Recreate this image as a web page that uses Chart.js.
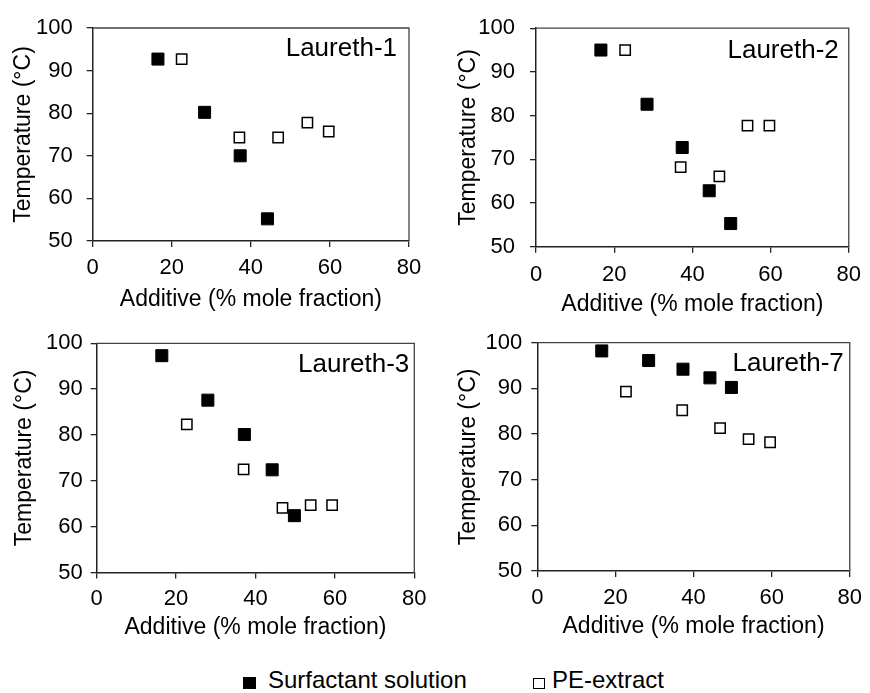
<!DOCTYPE html>
<html><head><meta charset="utf-8">
<script src="https://cdn.jsdelivr.net/npm/chart.js@4.4.1/dist/chart.umd.min.js"></script>
<style>
body{margin:0;background:#fff;width:870px;height:693px;position:relative;overflow:hidden;font-family:"Liberation Sans",Arial,sans-serif;}
canvas{position:absolute;}
.lg{position:absolute;font-size:24px;line-height:24px;color:#000;white-space:nowrap}
.sq{position:absolute;box-sizing:border-box}
</style></head><body>
<canvas id="c1" width="435" height="320" style="left:0;top:0"></canvas>
<canvas id="c2" width="435" height="320" style="left:435px;top:0"></canvas>
<canvas id="c3" width="435" height="340" style="left:0;top:320px"></canvas>
<canvas id="c4" width="435" height="340" style="left:435px;top:320px"></canvas>
<div class="sq" style="left:243px;top:677px;width:13px;height:12px;background:#000"></div>
<div class="lg" id="lg1" style="left:268px;top:668px"></div>
<div class="sq" style="left:533px;top:678px;width:12px;height:11px;border:1.3px solid #000"></div>
<div class="lg" id="lg2" style="left:552px;top:668px"></div>
<script>
// ---- data ----
const seriesNames = ["Surfactant solution", "PE-extract"];
const panelLabels = ["Laureth-1", "Laureth-2", "Laureth-3", "Laureth-7"];
const xTitle = "Additive (% mole fraction)";
const yTitle = "Temperature (°C)";
const xTicks = [0, 20, 40, 60, 80];
const yTicks = [50, 60, 70, 80, 90, 100];

const l1SurfX = [16.5, 28.3, 37.3, 44.2];
const l1SurfY = [92.7, 80.2, 70.0, 55.2];
const l1PeX   = [22.5, 37.1, 46.9, 54.3, 59.7];
const l1PeY   = [92.7, 74.3, 74.3, 77.8, 75.7];

const l2SurfX = [16.6, 28.4, 37.4, 44.3, 49.8];
const l2SurfY = [95.0, 82.6, 72.7, 62.8, 55.3];
const l2PeX   = [22.8, 37.0, 46.9, 54.1, 59.7];
const l2PeY   = [95.0, 68.2, 66.1, 77.7, 77.7];

const l3SurfX = [16.4, 28.0, 37.2, 44.2, 49.8];
const l3SurfY = [97.3, 87.6, 80.1, 72.4, 62.4];
const l3PeX   = [22.7, 37.0, 46.8, 53.9, 59.3];
const l3PeY   = [82.3, 72.5, 64.1, 64.7, 64.7];

const l7SurfX = [16.5, 28.5, 37.3, 44.2, 49.7];
const l7SurfY = [98.2, 96.1, 94.2, 92.3, 90.2];
const l7PeX   = [22.7, 37.1, 46.8, 54.1, 59.6];
const l7PeY   = [89.3, 85.2, 81.3, 78.9, 78.2];

document.getElementById('lg1').textContent = seriesNames[0];
document.getElementById('lg2').textContent = seriesNames[1];

const FONT = '"Liberation Sans", Arial, sans-serif';

const framePlugin = {
  id: 'frame',
  beforeDatasetsDraw(chart) {
    const {ctx, chartArea: a} = chart;
    ctx.save();
    ctx.strokeStyle = '#444';
    ctx.lineWidth = 1.3;
    ctx.beginPath();
    ctx.moveTo(a.left, a.top); ctx.lineTo(a.right, a.top); ctx.lineTo(a.right, a.bottom);
    ctx.stroke();
    ctx.restore();
  }
};
const labelPlugin = {
  id: 'panelLabel',
  afterDatasetsDraw(chart, args, opts) {
    const {ctx, chartArea: a} = chart;
    ctx.save();
    ctx.font = '26px ' + FONT;
    ctx.fillStyle = '#000';
    ctx.textAlign = 'right';
    ctx.textBaseline = 'middle';
    ctx.fillText(opts.text, a.right - opts.dx, a.top + opts.dy);
    ctx.restore();
  }
};

function pts(xs, ys) { return xs.map((x, i) => ({x: x, y: ys[i]})); }

function makeChart(id, label, sx, sy, px, py, g) {
  return new Chart(document.getElementById(id), {
    type: 'scatter',
    data: { datasets: [
      {label: seriesNames[0], data: pts(sx, sy), pointStyle: 'rect', pointRadius: 8.5,
       backgroundColor: '#000', borderColor: '#000', borderWidth: 1},
      {label: seriesNames[1], data: pts(px, py), pointStyle: 'rect', pointRadius: 7.3,
       backgroundColor: '#fff', borderColor: '#000', borderWidth: 1.5}
    ]},
    options: {
      responsive: false, animation: false, devicePixelRatio: 1,
      layout: {padding: {left: 0, top: g.top, right: g.right, bottom: 0}},
      plugins: {legend: {display: false}, tooltip: {enabled: false},
                panelLabel: {text: label, dx: g.lr, dy: g.lt}},
      scales: {
        x: {type: 'linear', min: xTicks[0], max: xTicks[xTicks.length - 1],
            afterBuildTicks(s) { s.ticks = xTicks.map(v => ({value: v})); },
            ticks: {padding: g.xtp, color: '#000', font: {family: FONT, size: 22}, maxRotation: 0},
            grid: {drawOnChartArea: false, tickLength: 6, color: '#222', lineWidth: 1.3},
            border: {color: '#222', width: 1.5},
            title: {display: true, text: xTitle, color: '#000', font: {family: FONT, size: 23},
                    padding: {top: 0, bottom: g.xtb}},
            afterFit(s) { s.height = g.xH; }},
        y: {type: 'linear', min: yTicks[0], max: yTicks[yTicks.length - 1],
            afterBuildTicks(s) { s.ticks = yTicks.map(v => ({value: v})); },
            ticks: {padding: g.ytp, color: '#000', font: {family: FONT, size: 22}},
            grid: {drawOnChartArea: false, tickLength: 6, color: '#222', lineWidth: 1.3},
            border: {color: '#222', width: 1.5},
            title: {display: true, text: yTitle, color: '#000', font: {family: FONT, size: 23},
                    padding: {top: g.ytt, bottom: 0}},
            afterFit(s) { s.width = g.yW; }}
      }
    },
    plugins: [framePlugin, labelPlugin]
  });
}

makeChart('c1', panelLabels[0], l1SurfX, l1SurfY, l1PeX, l1PeY,
  {top: 28, right: 26, yW: 92.7, xH: 79, ytp: 14, xtp: 8, ytt: 10.2, xtb: 6.7, lr: 12, lt: 21});
makeChart('c2', panelLabels[1], l2SurfX, l2SurfY, l2PeX, l2PeY,
  {top: 24.3, right: 17.7, yW: 101, xH: 73.3, ytp: 15, xtp: 9, ytt: 20.2, xtb: 1.2, lr: 10, lt: 22.4});
makeChart('c3', panelLabels[2], l3SurfX, l3SurfY, l3PeX, l3PeY,
  {top: 23.3, right: 20.7, yW: 96.7, xH: 87.5, ytp: 8, xtp: 7.5, ytt: 11.2, xtb: 18.2, lr: 5, lt: 21.7});
makeChart('c4', panelLabels[3], l7SurfX, l7SurfY, l7PeX, l7PeY,
  {top: 22.7, right: 13.7, yW: 102.3, xH: 89, ytp: 9, xtp: 8, ytt: 19.5, xtb: 19.5, lr: 6, lt: 21.5});
</script>
</body></html>
